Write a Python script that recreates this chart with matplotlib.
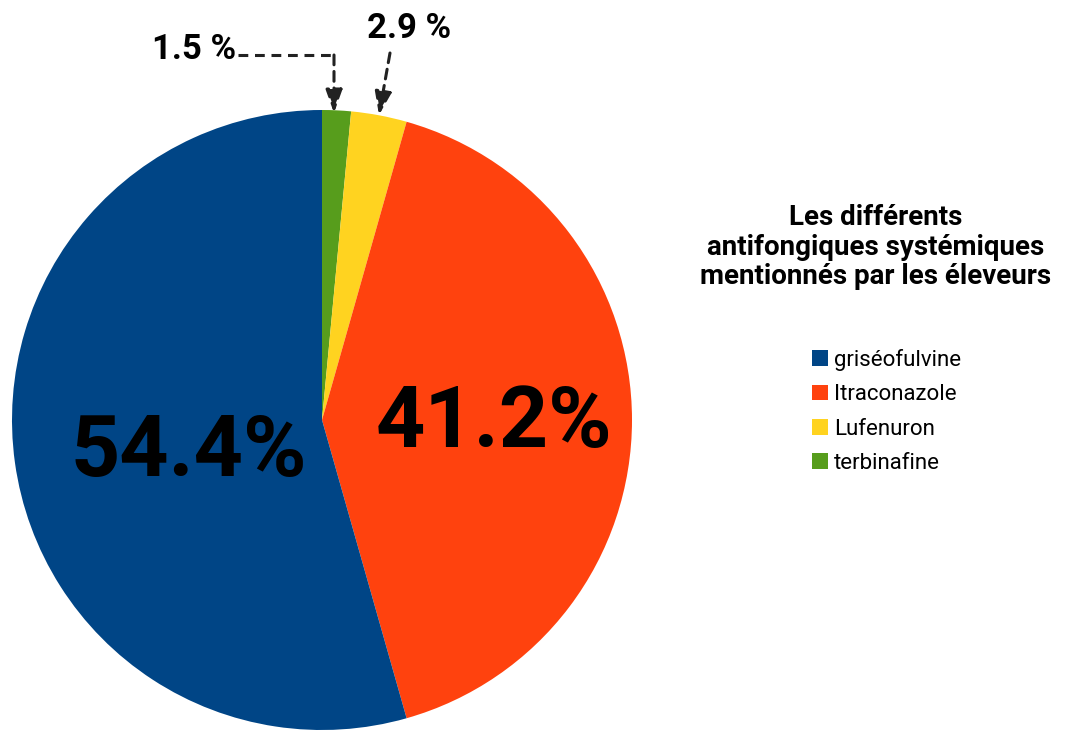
import matplotlib.pyplot as plt
from matplotlib.patches import Patch

# slices, clockwise from 12 o'clock
names = ['terbinafine', 'Lufenuron', 'Itraconazole', 'griséofulvine']
values = [1.5, 2.9, 41.2, 54.4]
colors = ['#579d1c', '#ffd320', '#ff420e', '#004586']

legend_order = ['griséofulvine', 'Itraconazole', 'Lufenuron', 'terbinafine']
title_txt = 'Les différents\nantifongiques systémiques\nmentionnés par les éleveurs'

plt.rcParams['font.family'] = ['Roboto', 'DejaVu Sans']

W, H = 1071, 731
fig = plt.figure(figsize=(W / 100, H / 100), dpi=100)

# pie spans x 12..632, y 110..730 in pixels
ax = fig.add_axes([12 / W, 1 / H, 620 / W, 620 / H])
wedges, _ = ax.pie(values, colors=colors, startangle=90, counterclock=False,
                   radius=1, center=(0, 0))
ax.set_xlim(-1, 1)
ax.set_ylim(-1, 1)
ax.set_aspect('auto')
ax.axis('off')

# big labels
ax.text(-0.43, -0.105, '%.1f%%' % values[3], fontsize=62, fontweight='bold',
        ha='center', va='center', color='black')
ax.text(0.555, -0.01, '%.1f%%' % values[2], fontsize=62, fontweight='bold',
        ha='center', va='center', color='black')

# small labels with dashed arrows
def px(x, y):
    return ((x - 322) / 310, (420 - y) / 310)

ax.text(*px(194, 50), '%.1f %%' % values[0], fontsize=25, fontweight='bold',
        ha='center', va='center', clip_on=False)
ax.text(*px(409, 29), '%.1f %%' % values[1], fontsize=25, fontweight='bold',
        ha='center', va='center', clip_on=False)

dash = (0, (3.2, 2.2))
ax.plot([px(238, 55)[0], px(334, 55)[0]], [px(238, 55)[1], px(334, 55)[1]],
        color='#222222', lw=2.2, ls=dash, clip_on=False)
arrow = dict(arrowstyle='-|>,head_width=0.25,head_length=0.7', mutation_scale=20,
             color='#222222', lw=2.2, ls=dash, shrinkA=0, shrinkB=0)
ax.annotate('', xy=px(334, 113), xytext=px(334, 55), arrowprops=arrow,
            annotation_clip=False)
ax.annotate('', xy=px(379, 115), xytext=px(390, 53), arrowprops=arrow,
            annotation_clip=False)

# legend title and entries
fig.text(876 / W, 1 - 247 / H, title_txt, fontsize=20, fontweight='bold',
         ha='center', va='center', linespacing=1.1)

handles = [Patch(facecolor=colors[names.index(n)], edgecolor='none') for n in legend_order]
fig.legend(handles, legend_order, loc='upper left',
           bbox_to_anchor=(792 / W, 1 - 329 / H), frameon=False,
           handlelength=0.7, handleheight=0.7, handletextpad=0.3,
           labelspacing=0.6, prop={'family': ['Roboto'], 'size': 16})

fig.savefig('out.png', dpi=100)
